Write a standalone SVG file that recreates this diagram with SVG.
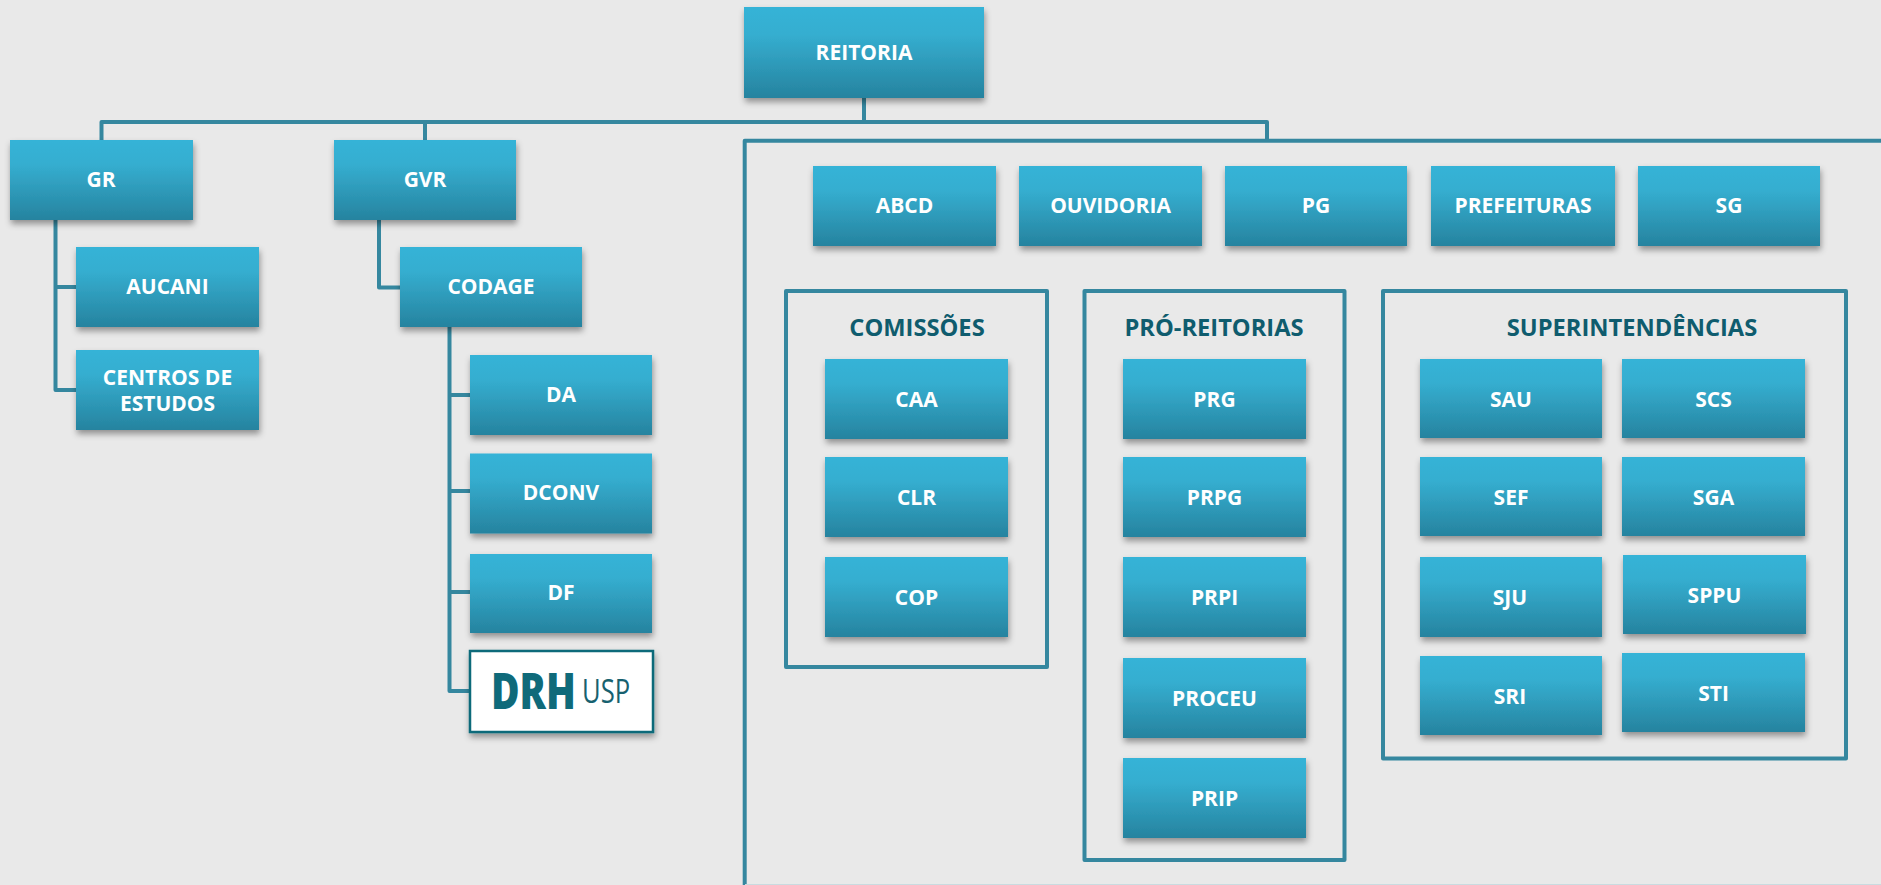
<svg xmlns="http://www.w3.org/2000/svg" width="1881" height="885" viewBox="0 0 1881 885">
<style>
.b{fill:url(#g);filter:url(#s)}
.t{font-family:"Open Sans","Noto Sans","Liberation Sans",sans-serif;font-weight:700;font-size:21px;fill:#fff;text-anchor:middle}
.h{font-family:"Open Sans","Noto Sans","Liberation Sans",sans-serif;font-weight:700;font-size:23.700px;fill:#0f5c6e;text-anchor:middle}
.c{fill:none;stroke:#35879f;stroke-width:4;stroke-linejoin:round}
</style>
<defs>
<linearGradient id="g" x1="0" y1="0" x2="0" y2="1"><stop offset="0" stop-color="#35b3d7"/><stop offset=".3" stop-color="#35aed0"/><stop offset="1" stop-color="#26839f"/></linearGradient>
<filter id="s" x="-15%" y="-15%" width="130%" height="140%"><feDropShadow dx="1" dy="4" stdDeviation="3" flood-color="#000" flood-opacity=".38"/></filter>
</defs>
<rect width="1881" height="885" fill="#e9e9e9"/>
<g id="connectors">
<path class="c" d="M864 98V122M101.500 142V122H1267V141M425 122V142"/>
<path class="c" d="M55.500 220V390H76M55.500 287H76"/>
<path class="c" d="M379 220V287.500H400"/>
<path class="c" d="M449.500 327V691H470M449.500 395H470M449.500 491H470M449.500 592H470"/>
<path class="c" d="M1881 140.700H744.700V885"/>
<path d="M745 884.500H1881" stroke="#c9dbe0" stroke-width="1" fill="none"/>
<rect class="c" x="786" y="291" width="261" height="376"/>
<rect class="c" x="1084.500" y="291" width="260" height="569"/>
<rect class="c" x="1383" y="291" width="463" height="467.500"/>
</g>
<g id="reitoria"><rect class="b" x="744" y="7" width="240" height="91"/><text class="t" x="864" y="60">REITORIA</text></g>
<g id="gr"><rect class="b" x="10" y="140" width="183" height="80"/><text class="t" x="101" y="187">GR</text></g>
<g id="gvr"><rect class="b" x="334" y="140" width="182" height="80"/><text class="t" x="425" y="187">GVR</text></g>
<g id="aucani"><rect class="b" x="76" y="247" width="183" height="80"/><text class="t" x="167.500" y="294">AUCANI</text></g>
<g id="centros"><rect class="b" x="76" y="350" width="183" height="80"/><text class="t" x="167.500" y="385">CENTROS DE</text><text class="t" x="167.500" y="411">ESTUDOS</text></g>
<g id="codage"><rect class="b" x="400" y="247" width="182" height="80"/><text class="t" x="491" y="294">CODAGE</text></g>
<g id="da"><rect class="b" x="470" y="355" width="182" height="80"/><text class="t" x="561" y="402">DA</text></g>
<g id="dconv"><rect class="b" x="470" y="453.500" width="182" height="80"/><text class="t" x="561" y="500">DCONV</text></g>
<g id="df"><rect class="b" x="470" y="554" width="182" height="79"/><text class="t" x="561" y="600">DF</text></g>
<g id="drh"><rect x="470" y="651" width="183" height="81" fill="#fff" stroke="#0f6a7a" stroke-width="2.500" filter="url(#s)"/>
<text transform="translate(491 709) scale(.78 1)" font-family="'Open Sans','Liberation Sans',sans-serif" font-weight="800" font-size="50" fill="#0f6a7a">DRH</text>
<text transform="translate(582 703) scale(.8 1)" font-family="'Open Sans','Liberation Sans',sans-serif" font-weight="400" font-size="32" fill="#17616f">USP</text></g>
<g id="abcd"><rect class="b" x="813" y="166" width="183" height="80"/><text class="t" x="904.500" y="213">ABCD</text></g>
<g id="ouvidoria"><rect class="b" x="1019" y="166" width="183" height="80"/><text class="t" x="1110.500" y="213">OUVIDORIA</text></g>
<g id="pg"><rect class="b" x="1225" y="166" width="182" height="80"/><text class="t" x="1316" y="213">PG</text></g>
<g id="prefeituras"><rect class="b" x="1431" y="166" width="184" height="80"/><text class="t" x="1523" y="213">PREFEITURAS</text></g>
<g id="sg"><rect class="b" x="1638" y="166" width="182" height="80"/><text class="t" x="1729" y="213">SG</text></g>
<g id="comissoes"><text class="h" x="917" y="336">COMISSÕES</text></g>
<g id="caa"><rect class="b" x="825" y="359" width="183" height="80"/><text class="t" x="916.500" y="407">CAA</text></g>
<g id="clr"><rect class="b" x="825" y="457" width="183" height="80"/><text class="t" x="916.500" y="505">CLR</text></g>
<g id="cop"><rect class="b" x="825" y="557" width="183" height="80"/><text class="t" x="916.500" y="605">COP</text></g>
<g id="pro-reitorias"><text class="h" x="1214" y="336">PRÓ-REITORIAS</text></g>
<g id="prg"><rect class="b" x="1123" y="359" width="183" height="80"/><text class="t" x="1214.500" y="407">PRG</text></g>
<g id="prpg"><rect class="b" x="1123" y="457" width="183" height="80"/><text class="t" x="1214.500" y="505">PRPG</text></g>
<g id="prpi"><rect class="b" x="1123" y="557" width="183" height="80"/><text class="t" x="1214.500" y="605">PRPI</text></g>
<g id="proceu"><rect class="b" x="1123" y="658" width="183" height="80"/><text class="t" x="1214.500" y="706">PROCEU</text></g>
<g id="prip"><rect class="b" x="1123" y="758" width="183" height="80"/><text class="t" x="1214.500" y="806">PRIP</text></g>
<g id="superintendencias"><text class="h" x="1632" y="336">SUPERINTENDÊNCIAS</text></g>
<g id="sau"><rect class="b" x="1420" y="359" width="182" height="79"/><text class="t" x="1511" y="407">SAU</text></g>
<g id="sef"><rect class="b" x="1420" y="457" width="182" height="79"/><text class="t" x="1511" y="505">SEF</text></g>
<g id="sju"><rect class="b" x="1420" y="557" width="182" height="80"/><text class="t" x="1510" y="605">SJU</text></g>
<g id="sri"><rect class="b" x="1420" y="656" width="182" height="79"/><text class="t" x="1510" y="704">SRI</text></g>
<g id="scs"><rect class="b" x="1622" y="359" width="183" height="79"/><text class="t" x="1713.500" y="407">SCS</text></g>
<g id="sga"><rect class="b" x="1622" y="457" width="183" height="79"/><text class="t" x="1713.500" y="505">SGA</text></g>
<g id="sppu"><rect class="b" x="1623" y="555" width="183" height="79"/><text class="t" x="1714.500" y="603">SPPU</text></g>
<g id="sti"><rect class="b" x="1622" y="653" width="183" height="79"/><text class="t" x="1713.500" y="701">STI</text></g>
</svg>
